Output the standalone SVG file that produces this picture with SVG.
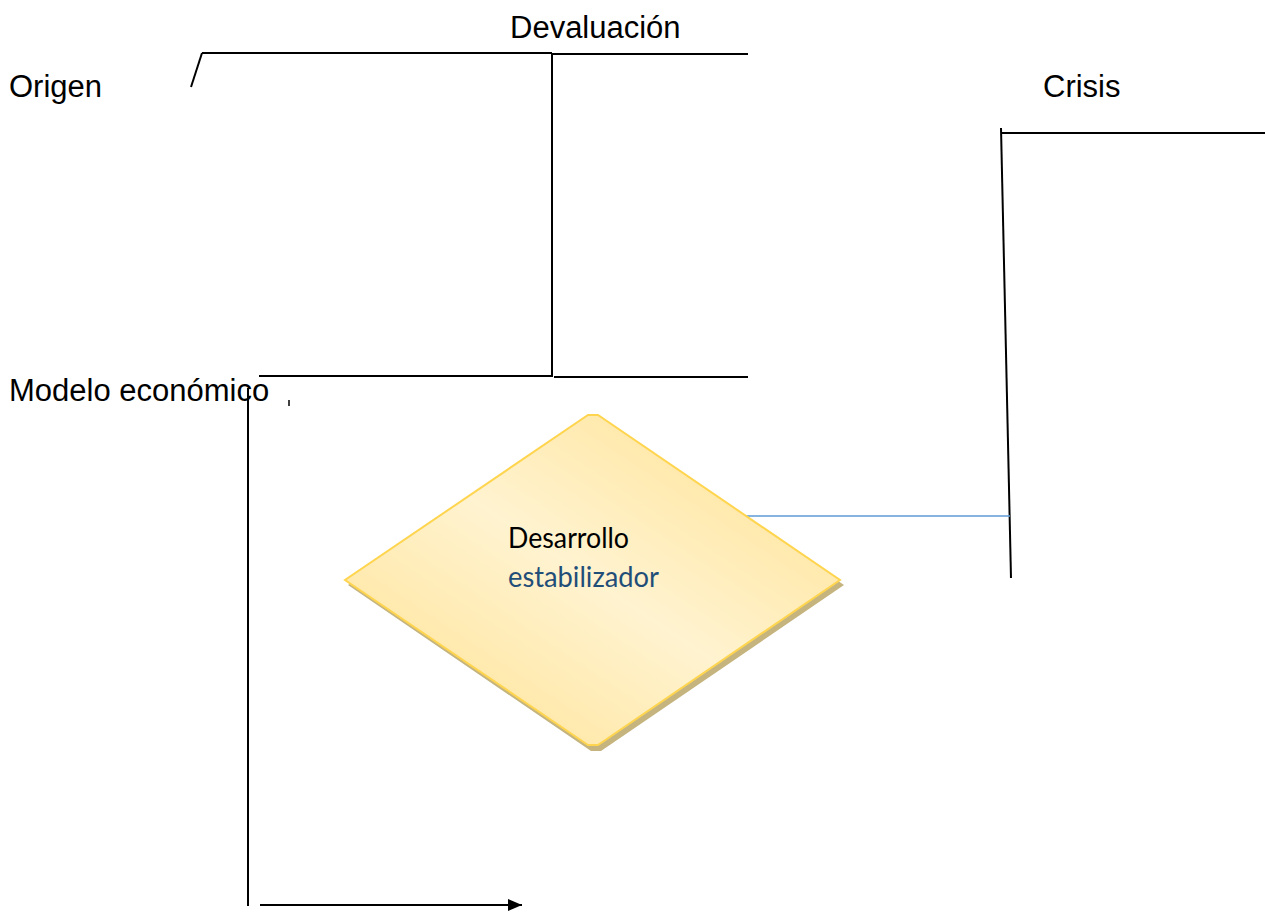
<svg xmlns="http://www.w3.org/2000/svg" width="1265" height="917" viewBox="0 0 1265 917">
<style>
.lbl{font-family:"Liberation Sans",Arial,sans-serif;font-size:31px;fill:#000}
.ln{stroke:#000;stroke-width:2;fill:none}
.dtxt{font-family:Lato,"Open Sans",sans-serif;font-size:28px}
</style>
<defs>
<linearGradient id="dg" x1="1" y1="0" x2="0" y2="1">
<stop offset="0" stop-color="#FFE08C"/>
<stop offset="0.5" stop-color="#FFF3D0"/>
<stop offset="1" stop-color="#FFE08C"/>
</linearGradient>
<marker id="arr" markerWidth="14" markerHeight="12" refX="14" refY="6" orient="auto" markerUnits="userSpaceOnUse">
<path d="M0,0 L14,6 L0,12 Z" fill="#000"/>
</marker>
</defs>
<rect width="1265" height="917" fill="#fff"/>
<g id="labels">
<text class="lbl" x="510" y="38">Devaluación</text>
<text class="lbl" x="9" y="97">Origen</text>
<text class="lbl" x="1043" y="97">Crisis</text>
<text class="lbl" x="9" y="401">Modelo económico</text>
</g>
<g id="connectors">
<line class="ln" x1="191" y1="87" x2="202" y2="53"/>
<line class="ln" x1="202" y1="53" x2="552" y2="53"/>
<line class="ln" x1="552" y1="54" x2="748" y2="54"/>
<line class="ln" x1="552" y1="53" x2="552" y2="377"/>
<line class="ln" x1="259" y1="376" x2="552" y2="376"/>
<line class="ln" x1="554" y1="377" x2="748" y2="377"/>
<line class="ln" x1="1001" y1="133" x2="1265" y2="133"/>
<line class="ln" x1="1001" y1="128" x2="1011" y2="578"/>
<line x1="741" y1="516" x2="1010" y2="516" stroke="#5B9BD5" stroke-width="1.5"/>
<line x1="289" y1="400" x2="289" y2="406" stroke="#000" stroke-width="1.5"/>
<line class="ln" x1="248" y1="388" x2="248" y2="906"/>
<line class="ln" x1="260" y1="905" x2="522" y2="905" marker-end="url(#arr)"/>
</g>
<g id="diamond">
<polygon points="591,420 601,420 844,585 601,751 591,751 348,585" fill="#C5B47E"/>
<polygon points="588,415 598,415 840,580 598,745 588,745 345,580" fill="url(#dg)" stroke="#FFD54F" stroke-width="2"/>
<text class="dtxt" x="508" y="548" fill="#000" textLength="121" lengthAdjust="spacingAndGlyphs">Desarrollo</text>
<text class="dtxt" x="508" y="587" fill="#1F4E79" textLength="151" lengthAdjust="spacingAndGlyphs">estabilizador</text>
</g>
</svg>
